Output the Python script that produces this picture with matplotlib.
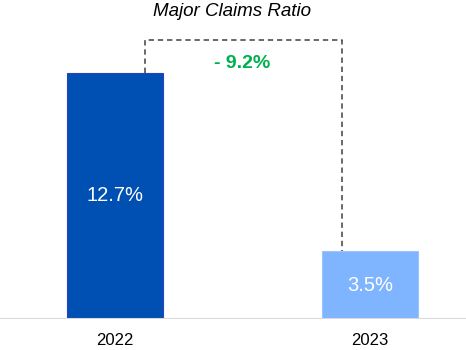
import matplotlib.pyplot as plt

plt.rcParams['font.family'] = ['Liberation Sans', 'DejaVu Sans']

# data
years = ["2022", "2023"]
ratios = [12.7, 3.5]
value_labels = ["12.7%", "3.5%"]
change_label = "- 9.2%"
bracket_top = 14.4

fig = plt.figure(figsize=(4.66, 3.5), dpi=100)
ax = fig.add_axes([0, 31 / 350, 1, 319 / 350])

x = range(len(years))
ax.bar(x, ratios, width=0.376, color=["#0050B4", "#7FB4FF"],
       edgecolor=["#2A40C0", "#9CC4FF"], linewidth=0.8, zorder=2)

for i, (v, lab) in enumerate(zip(ratios, value_labels)):
    ax.text(i, v / 2, lab, color="white", fontsize=14.5, ha="center", va="center")

# dashed bracket showing the change
ax.plot([0.118, 0.118, 0.89, 0.89], [ratios[0], bracket_top, bracket_top, ratios[1]],
        ls=(0, (3.5, 2.5)), color="#404040", lw=1.1, zorder=1)
ax.text(0.5, 13.15, change_label, color="#00B050", fontsize=14, fontweight="bold",
        ha="center", va="center")

ax.set_xlim(-0.451, 1.376)
ax.set_ylim(0, 16.44)
ax.axhline(0, color="#D9D9D9", lw=1.5, zorder=3)
for s in ax.spines.values():
    s.set_visible(False)
ax.set_yticks([])
ax.set_xticks(list(x))
ax.set_xticklabels(years, fontsize=12)
ax.tick_params(axis="x", length=0, pad=10)

fig.text(232 / 466, 1 - 12 / 350, "Major Claims Ratio", fontsize=13.5, style="italic",
         ha="center", va="center")

fig.savefig("out.png", dpi=100)
